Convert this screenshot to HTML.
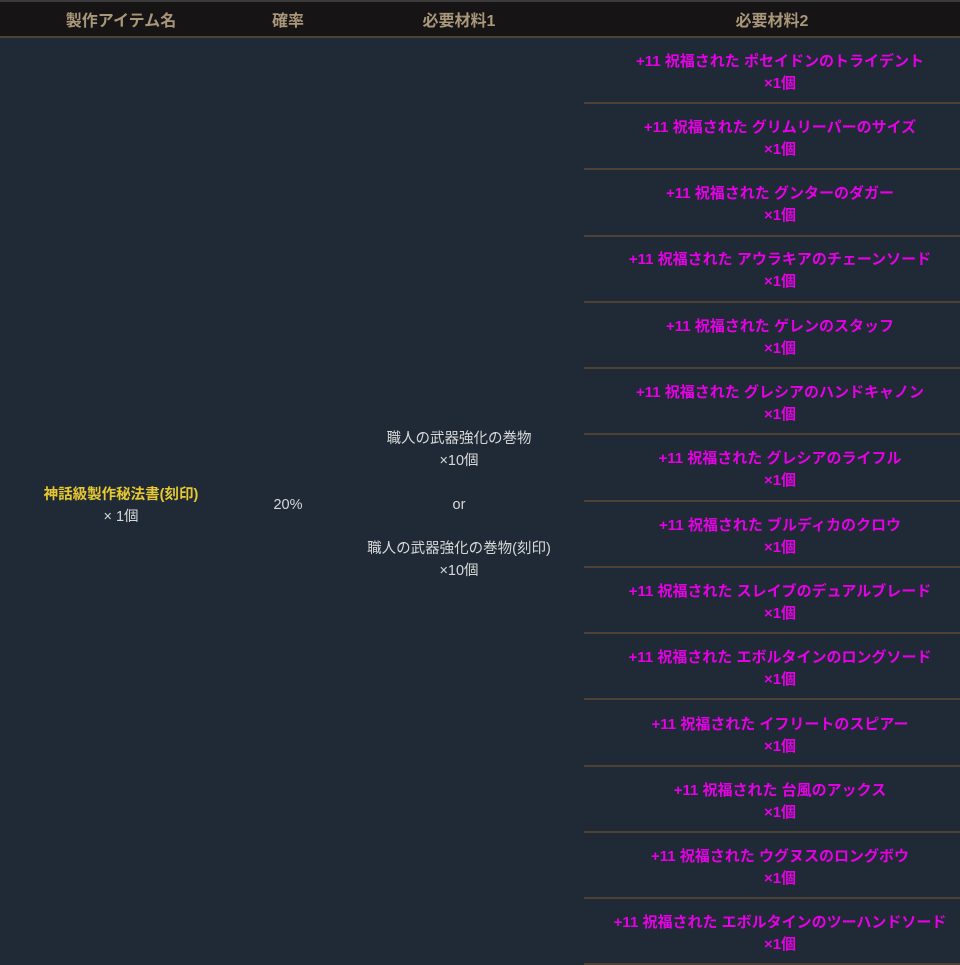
<!DOCTYPE html>
<html><head><meta charset="utf-8"><style>
body{margin:0;width:960px;height:965px;background:#1f2a36;overflow:hidden;font-family:"Liberation Sans","Noto Sans CJK JP",sans-serif;}
.top{position:absolute;left:0;top:0;width:960px;height:2px;background:#3a3a3a}
.hd{position:absolute;top:2px;height:34px;background:#161414;color:#a8977a;font-weight:bold;font-size:16px;line-height:40px;text-align:center;}
.hl{position:absolute;left:0;top:36px;width:960px;height:2px;background:#4d4233}
.cell{position:absolute;text-align:center;color:#d8d8d8;font-size:14.5px;line-height:22px}
.r{position:absolute;left:592px;width:376px;height:64px;padding-top:5px;box-sizing:border-box;color:#e600e6;font-weight:bold;font-size:15px;line-height:22px;text-align:center;display:flex;flex-direction:column;justify-content:center;white-space:nowrap}
.s{position:absolute;left:584px;width:376px;height:2px;background:#4d4233}
</style></head><body>
<div class="top"></div>
<div class="hd" style="left:0;width:242px">製作アイテム名</div>
<div class="hd" style="left:242px;width:92px">確率</div>
<div class="hd" style="left:334px;width:250px">必要材料1</div>
<div class="hd" style="left:584px;width:376px">必要材料2</div>
<div class="hl"></div>
<div class="cell" style="left:0;width:242px;top:484px"><b style="color:#e8c830;font-size:14.5px">神話級製作秘法書(刻印)</b><br>× 1個</div>
<div class="cell" style="left:242px;width:92px;top:494px">20%</div>
<div class="cell" style="left:334px;width:250px;top:428px">職人の武器強化の巻物<br>×10個<br><br>or<br><br>職人の武器強化の巻物(刻印)<br>×10個</div>
<div class="r" style="top:38px">+11 祝福された ポセイドンのトライデント<span>×1個</span></div>
<div class="r" style="top:104.3px">+11 祝福された グリムリーパーのサイズ<span>×1個</span></div>
<div class="r" style="top:170.6px">+11 祝福された グンターのダガー<span>×1個</span></div>
<div class="r" style="top:236.9px">+11 祝福された アウラキアのチェーンソード<span>×1個</span></div>
<div class="r" style="top:303.2px">+11 祝福された ゲレンのスタッフ<span>×1個</span></div>
<div class="r" style="top:369.5px">+11 祝福された グレシアのハンドキャノン<span>×1個</span></div>
<div class="r" style="top:435.8px">+11 祝福された グレシアのライフル<span>×1個</span></div>
<div class="r" style="top:502.1px">+11 祝福された ブルディカのクロウ<span>×1個</span></div>
<div class="r" style="top:568.4px">+11 祝福された スレイブのデュアルブレード<span>×1個</span></div>
<div class="r" style="top:634.7px">+11 祝福された エボルタインのロングソード<span>×1個</span></div>
<div class="r" style="top:701px">+11 祝福された イフリートのスピアー<span>×1個</span></div>
<div class="r" style="top:767.3px">+11 祝福された 台風のアックス<span>×1個</span></div>
<div class="r" style="top:833.6px">+11 祝福された ウグヌスのロングボウ<span>×1個</span></div>
<div class="r" style="top:899.9px">+11 祝福された エボルタインのツーハンドソード<span>×1個</span></div>
<div class="s" style="top:102px"></div><div class="s" style="top:168px"></div><div class="s" style="top:234.5px"></div>
<div class="s" style="top:300.5px"></div><div class="s" style="top:367px"></div><div class="s" style="top:433px"></div>
<div class="s" style="top:499.5px"></div><div class="s" style="top:565.5px"></div><div class="s" style="top:632px"></div>
<div class="s" style="top:698px"></div><div class="s" style="top:764.5px"></div><div class="s" style="top:830.5px"></div>
<div class="s" style="top:897px"></div><div class="s" style="top:963px"></div>
</body></html>
